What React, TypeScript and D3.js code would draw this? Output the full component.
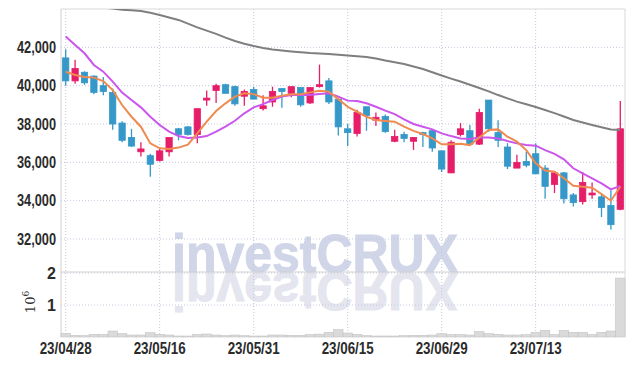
import React from "react";
import * as d3 from "d3";

const dates = [
  "23/04/28", "23/05/02", "23/05/03", "23/05/04", "23/05/08", "23/05/09", "23/05/10", "23/05/11", "23/05/12", "23/05/15",
  "23/05/16", "23/05/17", "23/05/18", "23/05/19", "23/05/22", "23/05/23", "23/05/24", "23/05/25", "23/05/26", "23/05/30",
  "23/05/31", "23/06/01", "23/06/02", "23/06/05", "23/06/07", "23/06/08", "23/06/09", "23/06/12", "23/06/13", "23/06/14",
  "23/06/15", "23/06/16", "23/06/19", "23/06/20", "23/06/21", "23/06/22", "23/06/23", "23/06/26", "23/06/27", "23/06/28",
  "23/06/29", "23/06/30", "23/07/03", "23/07/04", "23/07/05", "23/07/06", "23/07/07", "23/07/10", "23/07/11", "23/07/12",
  "23/07/13", "23/07/14", "23/07/17", "23/07/18", "23/07/19", "23/07/20", "23/07/21", "23/07/24", "23/07/25", "23/07/26",
];

const opens = [
  41450, 40250, 40700, 40500, 40000, 39650, 38050, 37300, 36550, 36350,
  36100, 36550, 37750, 37850, 37450, 39250, 39750, 40050, 39950, 39450,
  39800, 38800, 39150, 39850, 39600, 39900, 39100, 39950, 40250, 39300,
  37750, 37500, 38900, 38200, 38400, 37100, 37450, 37100, 37550, 37650,
  36600, 35450, 37450, 37650, 36950, 39250, 37550, 36800, 35700, 36050,
  36450, 35700, 34850, 35450, 34300, 33950, 34300, 34200, 33750, 33550,
];
const highs = [
  41900, 41350, 40750, 40550, 40450, 39850, 38150, 37750, 37050, 36450,
  36750, 37300, 37800, 37900, 38800, 39750, 40100, 40100, 40000, 39800,
  39950, 39500, 39950, 39850, 39950, 39900, 39900, 41100, 40400, 39350,
  38000, 38750, 38900, 38600, 38500, 37700, 37600, 37300, 37600, 37700,
  36600, 37150, 38050, 37950, 38800, 39250, 38200, 37000, 36400, 36550,
  37000, 35850, 35550, 35500, 34400, 35500, 34950, 34400, 34550, 39200,
];
const lows = [
  40000, 40100, 40050, 39550, 39500, 37700, 37050, 36800, 36300, 35250,
  36050, 36300, 37150, 37400, 37000, 38950, 39100, 39600, 38950, 38950,
  39300, 38700, 38900, 38850, 39400, 38900, 39050, 39900, 39050, 37400,
  36850, 37350, 37650, 37900, 37550, 37050, 37050, 36650, 36800, 36550,
  35500, 35450, 37350, 36900, 36900, 37600, 36800, 35650, 35700, 35750,
  35400, 34100, 34400, 33850, 33700, 33800, 34100, 33150, 32500, 33500,
];
const closes = [
  40250, 40900, 40150, 39650, 39700, 38000, 37150, 36850, 36700, 35900,
  36600, 37300, 37450, 37450, 38800, 39350, 40000, 39600, 39050, 39700,
  39300, 38950, 39700, 39700, 39950, 39000, 39900, 40050, 39150, 37850,
  37550, 38600, 38450, 38350, 37600, 37350, 37250, 37300, 37450, 36750,
  35650, 37050, 37750, 36950, 38600, 37750, 37150, 35800, 36000, 35850,
  35400, 34750, 35450, 34100, 33900, 34950, 34400, 33650, 32750, 37750,
];

const ma5 = [
  40730, 40560, 40450, 40420, 40240, 39770, 38990, 38380, 37860, 36990,
  36730, 36700, 36770, 36920, 37510, 38120, 38680, 39080, 39430, 39600,
  39560, 39370, 39370, 39480, 39550, 39550, 39650, 39740, 39690, 39300,
  38900, 38640, 38380, 38210, 38160, 38120, 37860, 37640, 37480, 37250,
  36940, 36940, 36970, 36900, 37300, 37690, 37720, 37340, 37080, 36640,
  35950, 35570, 35510, 35170, 34780, 34730, 34680, 34350, 34000, 34730,
];
const ma10 = [
  42560, 42120, 41690, 41080, 40730, 40210, 39640, 39250, 38870, 38380,
  37950, 37600, 37370, 37270, 37300, 37370, 37600, 37860, 38170, 38560,
  38870, 39040, 39250, 39430, 39510, 39510, 39510, 39570, 39600, 39430,
  39220, 39200, 39080, 38900, 38700, 38520, 38240, 38000, 37860, 37720,
  37510, 37370, 37250, 37220, 37300, 37300, 37250, 37110, 36990, 36900,
  36870, 36640, 36440, 36160, 35690, 35430, 35170, 34900, 34590, 34770,
];
const ma60 = [
  44300, 44250, 44200, 44140, 44080, 44020, 43960, 43930, 43890, 43800,
  43690, 43560, 43430, 43240, 43040, 42870, 42700, 42510, 42330, 42190,
  42070, 41970, 41890, 41830, 41780, 41740, 41700, 41680, 41650, 41610,
  41570, 41530, 41500, 41420, 41310, 41220, 41130, 41000, 40870, 40700,
  40530, 40370, 40220, 40050, 39880, 39700, 39510, 39340, 39170, 39030,
  38890, 38730, 38570, 38390, 38210, 38080, 37950, 37830, 37720, 37690,
];
const volumes = [
  115000, 52000, 45000, 83000, 83000, 187000, 104000, 62000, 62000, 135000,
  83000, 62000, 31000, 31000, 83000, 94000, 62000, 42000, 62000, 42000,
  31000, 31000, 62000, 62000, 52000, 52000, 73000, 90000, 146000, 229000,
  125000, 83000, 42000, 31000, 31000, 31000, 42000, 52000, 52000, 62000,
  104000, 73000, 73000, 62000, 167000, 104000, 83000, 62000, 62000, 73000,
  146000, 208000, 73000, 208000, 146000, 146000, 73000, 146000, 187000, 1840000,
];

const priceTicks = [32000, 34000, 36000, 38000, 40000, 42000];
const volTicks = [1, 2];
const labelIdx = [0, 10, 20, 30, 40, 50];

const W = 634;
const H = 366;
const left = 61;
const right = 625;
const pTop = 9;
const pBottom = 272;
const vTop = 273;
const vBottom = 337;

const UP = "#e61d69";
const DOWN = "#3598c9";
const GRID = "#c4c8dc";
const labelFont = "'Liberation Sans', Arial, sans-serif";

export default function App() {
  const idx = d3.range(dates.length);
  const x = d3.scaleBand<number>().domain(idx).range([left, right]).paddingInner(0.33).paddingOuter(0.165);
  const xv = d3.scaleBand<number>().domain(idx).range([left, right]).padding(0);
  const cx = (i: number) => (x(i) as number) + x.bandwidth() / 2;
  const y = d3.scaleLinear().domain([30280, 44000]).range([pBottom, pTop]);
  const yv = d3.scaleLinear().domain([0, 2e6]).range([vBottom, vTop]);
  const fmt = d3.format(",");

  const line = (vals: number[]) =>
    d3.line<number>().x((_, i) => cx(i)).y((d) => y(d))(vals) || "";

  return (
    <svg width={W} height={H} style={{ position: "absolute", left: 0, top: 0, background: "#fff" }}>
      <defs>
        <clipPath id="pclip">
          <rect x={left} y={pTop} width={right - left} height={pBottom - pTop} />
        </clipPath>
        <linearGradient id="refl" x1="0" y1="0" x2="0" y2="1">
          <stop offset="0" stopColor="#dcdde8" />
          <stop offset="1" stopColor="#eeeef3" />
        </linearGradient>
      </defs>

      {/* watermark */}
      <text x={172} y={272} fontSize={54} fontWeight="bold" fontFamily="'Liberation Sans', Arial, sans-serif"
        fill="#d0d5e8" stroke="#d0d5e8" strokeWidth={1} textLength={286} lengthAdjust="spacingAndGlyphs">investCRUX</text>
      <g transform="translate(0,545) scale(1,-1)">
        <text x={172} y={272} fontSize={54} fontWeight="bold" fontFamily="'Liberation Sans', Arial, sans-serif"
          fill="#e4e5ee" stroke="#e4e5ee" strokeWidth={1} textLength={286} lengthAdjust="spacingAndGlyphs">investCRUX</text>
      </g>

      {/* grid */}
      {priceTicks.map((t) => (
        <line key={"pg" + t} x1={left} x2={right} y1={y(t)} y2={y(t)} stroke={GRID} strokeDasharray="1,2" />
      ))}
      {volTicks.map((t) => (
        <line key={"vg" + t} x1={left} x2={right} y1={yv(t * 1e6)} y2={yv(t * 1e6)} stroke={GRID} strokeDasharray="1,2" />
      ))}
      {labelIdx.map((i) => (
        <g key={"xg" + i}>
          <line x1={cx(i)} x2={cx(i)} y1={pTop} y2={pBottom} stroke={GRID} strokeDasharray="1,2" />
          <line x1={cx(i)} x2={cx(i)} y1={vTop} y2={vBottom} stroke={GRID} strokeDasharray="1,2" />
        </g>
      ))}

      {/* frame */}
      <line x1={left} x2={right} y1={pTop} y2={pTop} stroke="#d9d9d9" />
      <line x1={left} x2={right} y1={pBottom} y2={pBottom} stroke="#d0d0d0" />
      <line x1={left} x2={left} y1={pTop} y2={vBottom} stroke="#d0d0d0" />
      <line x1={right} x2={right} y1={pTop} y2={vBottom} stroke="#d9d9d9" />

      {/* volume */}
      {volumes.map((v, i) => (
        <rect key={"v" + i} x={xv(i)} y={yv(v)} width={xv.bandwidth()} height={vBottom - yv(v)}
          fill="#dadada" stroke="#c4c4c4" strokeWidth={0.6} />
      ))}

      {/* candles */}
      <g clipPath="url(#pclip)">
        {idx.map((i) => {
          const o = opens[i], c = closes[i];
          const col = c >= o ? UP : DOWN;
          const top = y(Math.max(o, c));
          const h = Math.max(1, Math.abs(y(o) - y(c)));
          return (
            <g key={"c" + i}>
              <line x1={cx(i)} x2={cx(i)} y1={y(highs[i])} y2={y(lows[i])} stroke={col} strokeWidth={1.3} />
              <rect x={x(i)} y={top} width={x.bandwidth()} height={h} fill={col} stroke={col} strokeWidth={0.8} />
            </g>
          );
        })}
        <path d={line(ma60)} fill="none" stroke="#7f7f7f" strokeWidth={2} />
        <path d={line(ma10)} fill="none" stroke="#cc55ee" strokeWidth={2} />
        <path d={line(ma5)} fill="none" stroke="#ef8a50" strokeWidth={2} />
      </g>

      {/* axes labels */}
      {priceTicks.map((t) => (
        <text key={"pl" + t} x={56} y={y(t)} dy="0.36em" textAnchor="end" fontFamily={labelFont}
          fontWeight="bold" fontSize={16} fill="#2b2b2b" textLength={39} lengthAdjust="spacingAndGlyphs">{fmt(t)}</text>
      ))}
      {volTicks.map((t) => (
        <text key={"vl" + t} x={56} y={yv(t * 1e6)} dy="0.36em" textAnchor="end" fontFamily={labelFont}
          fontWeight="bold" fontSize={16} fill="#2b2b2b">{t}</text>
      ))}
      <text transform="translate(35,302) rotate(-90)" textAnchor="middle" fontFamily="'DejaVu Serif', serif"
        fontSize={13} fill="#333">10<tspan dy={-6} fontSize={9}>6</tspan></text>
      {labelIdx.map((i) => (
        <text key={"xl" + i} x={cx(i)} y={354} textAnchor="middle" fontFamily={labelFont}
          fontWeight="bold" fontSize={16} fill="#2b2b2b" textLength={52} lengthAdjust="spacingAndGlyphs">{dates[i]}</text>
      ))}
    </svg>
  );
}
